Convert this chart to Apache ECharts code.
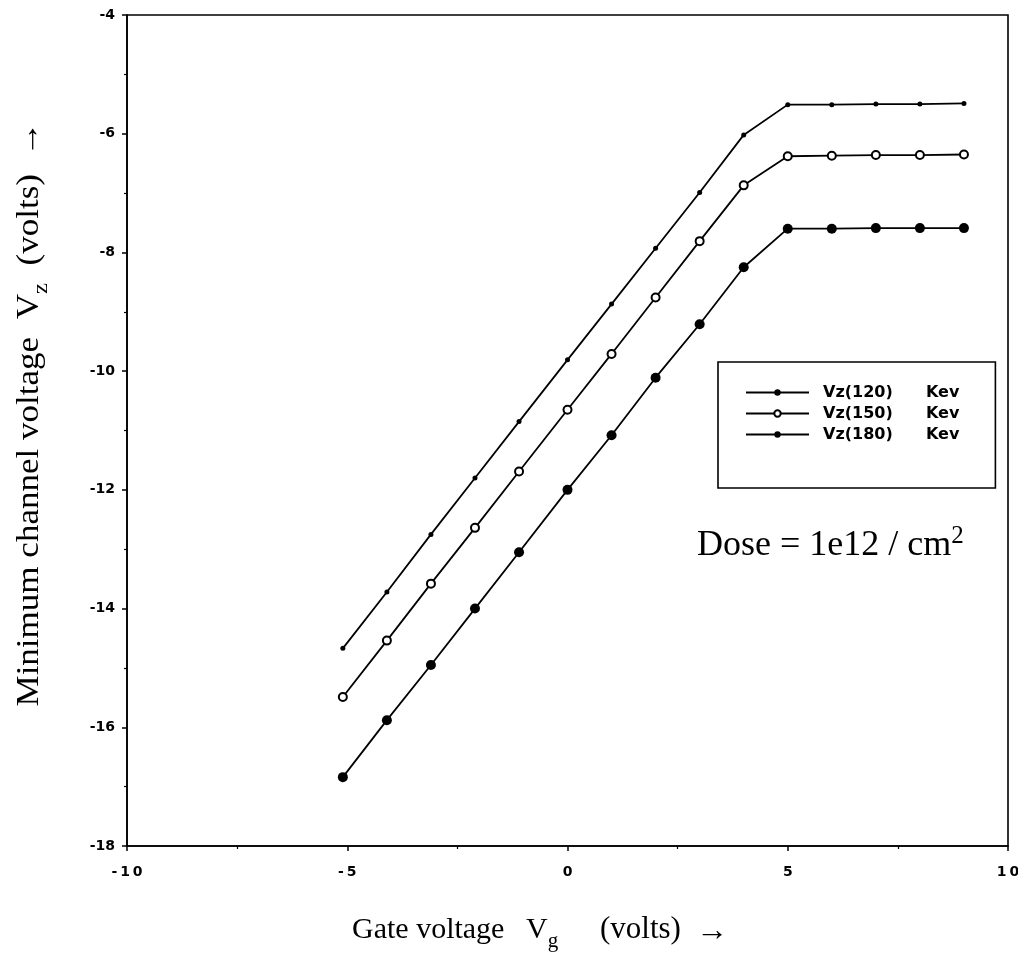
<!DOCTYPE html>
<html>
<head>
<meta charset="utf-8">
<script src="https://cdn.jsdelivr.net/npm/echarts@6/dist/echarts.min.js"></script>
<style>
  html, body { margin: 0; padding: 0; background: #fff; }
  #chart { width: 1018px; height: 963px; }
</style>
</head>
<body>
<div id="chart"></div>
<script>
// Gate voltage sweep (volts) shared by all three implant energies
const gateVoltage = [-5.1, -4.1, -3.1, -2.1, -1.1, 0, 1, 2, 3, 4, 5, 6, 7, 8, 9];
// Minimum channel voltage Vz (volts) per implant energy
const vz120 = [-14.67, -13.72, -12.75, -11.80, -10.85, -9.81, -8.87, -7.93, -6.99, -6.02, -5.51, -5.51, -5.50, -5.50, -5.49];
const vz150 = [-15.49, -14.54, -13.58, -12.64, -11.69, -10.65, -9.71, -8.76, -7.81, -6.87, -6.38, -6.37, -6.36, -6.36, -6.35];
const vz180 = [-16.84, -15.88, -14.95, -14.00, -13.05, -12.00, -11.08, -10.11, -9.21, -8.25, -7.60, -7.60, -7.59, -7.59, -7.59];
const seriesNames = ['Vz(120)', 'Vz(150)', 'Vz(180)'];
const unitLabel = 'Kev';
// Axis ranges and tick spacing
const xRange = [-10, 10], xStep = 5;
const yRange = [-18, -4], yStep = 2;

const pairs = ys => gateVoltage.map((x, i) => [x, ys[i]]);
const SANS = '"DejaVu Sans", Verdana, sans-serif';
const SERIF = '"Liberation Serif", "Times New Roman", serif';
// spaced-out digits on the horizontal axis labels
const spaced = v => String(v).split('').join('\u2009');

const chart = echarts.init(document.getElementById('chart'), null, { renderer: 'canvas' });

const lineBase = {
  type: 'line',
  color: '#000',
  lineStyle: { color: '#000', width: 1.8 },
  emphasis: { disabled: true },
  animation: false,
  z: 3
};

const serifRich = size => ({
  t: { fontFamily: SERIF, fontSize: size, lineHeight: 44, verticalAlign: 'middle', fill: '#000' },
  s: { fontFamily: SERIF, fontSize: Math.round(size * 0.7), lineHeight: 24, verticalAlign: 'bottom', fill: '#000' },
  p: { fontFamily: SERIF, fontSize: Math.round(size * 0.7), lineHeight: 24, verticalAlign: 'top', fill: '#000' }
});

const plainText = (txt, x, y, size) => ({
  type: 'text', x: x, y: y, silent: true,
  style: {
    text: txt, fill: '#000',
    font: `${size}px ${SERIF}`,
    textAlign: 'left', textVerticalAlign: 'middle', align: 'left', verticalAlign: 'middle'
  }
});

chart.setOption({
  backgroundColor: '#fff',
  animation: false,
  grid: {
    left: 127, right: 10, top: 15, bottom: 117,
    containLabel: false, outerBoundsMode: 'none',
    show: true, borderColor: '#000', borderWidth: 1.6, backgroundColor: 'transparent'
  },
  xAxis: {
    type: 'value', min: xRange[0], max: xRange[1], interval: xStep,
    axisLine: { show: true, onZero: false, lineStyle: { color: '#000', width: 1.6 } },
    axisTick: { show: true, inside: false, length: 5, lineStyle: { color: '#000', width: 1.5 } },
    minorTick: { show: true, splitNumber: 2, length: 3, lineStyle: { color: '#000', width: 1.2 } },
    splitLine: { show: false },
    axisLabel: {
      color: '#000', fontFamily: SANS, fontWeight: 'bold', fontSize: 14, margin: 19,
      formatter: v => spaced(v)
    }
  },
  yAxis: {
    type: 'value', min: yRange[0], max: yRange[1], interval: yStep,
    axisLine: { show: true, onZero: false, lineStyle: { color: '#000', width: 1.6 } },
    axisTick: { show: true, inside: false, length: 5, lineStyle: { color: '#000', width: 1.5 } },
    minorTick: { show: true, splitNumber: 2, length: 3, lineStyle: { color: '#000', width: 1.2 } },
    splitLine: { show: false },
    axisLabel: { color: '#000', fontFamily: SANS, fontWeight: 'bold', fontSize: 14, margin: 12 }
  },
  legend: {
    orient: 'vertical',
    left: 718, top: 362,
    padding: [22, 36, 45, 27],
    itemGap: 4,
    itemWidth: 63, itemHeight: 8,
    borderColor: '#000', borderWidth: 1.6,
    backgroundColor: '#fff',
    selectedMode: false,
    data: seriesNames,
    formatter: name => `{a|${name}}{b|${unitLabel}}`,
    textStyle: {
      color: '#000', fontFamily: SANS, fontWeight: 'bold', fontSize: 16, lineHeight: 17,
      rich: {
        a: { fontFamily: SANS, fontWeight: 'bold', fontSize: 16, width: 103, padding: [0, 0, 0, 9] },
        b: { fontFamily: SANS, fontWeight: 'bold', fontSize: 16 }
      }
    }
  },
  series: [
    Object.assign({}, lineBase, {
      name: seriesNames[0], data: pairs(vz120),
      symbol: 'circle', symbolSize: 5,
      itemStyle: { color: '#000' }
    }),
    Object.assign({}, lineBase, {
      name: seriesNames[1], data: pairs(vz150),
      symbol: 'emptyCircle', symbolSize: 8,
      itemStyle: { color: '#000', borderColor: '#000', borderWidth: 1.6 }
    }),
    Object.assign({}, lineBase, {
      name: seriesNames[2], data: pairs(vz180),
      symbol: 'circle', symbolSize: 10,
      itemStyle: { color: '#000' }
    })
  ],
  graphic: [
    // horizontal axis title: "Gate voltage  Vg  (volts)  →"
    plainText('Gate voltage', 352, 930, 30),
    {
      type: 'text', x: 526, y: 930, silent: true,
      style: {
        text: '{t|V}{s|g}',
        textAlign: 'left', textVerticalAlign: 'middle', align: 'left', verticalAlign: 'middle',
        fill: '#000',
        rich: serifRich(30)
      }
    },
    plainText('(volts)', 600, 930, 31),
    plainText('→', 696, 932, 32),
    // vertical axis title
    {
      type: 'text', x: 30, y: 414, rotation: Math.PI / 2, scaleX: 1.13, silent: true,
      style: {
        text: '{t|Minimum channel voltage  V}{s|z}{t|  (volts)  →}',
        textAlign: 'center', textVerticalAlign: 'middle', align: 'center', verticalAlign: 'middle',
        fill: '#000',
        rich: serifRich(31)
      }
    },
    // implant dose annotation
    {
      type: 'text', x: 697, y: 546, silent: true,
      style: {
        text: '{t|Dose = 1e12 / cm}{p|2}',
        textAlign: 'left', textVerticalAlign: 'middle', align: 'left', verticalAlign: 'middle',
        fill: '#000',
        rich: serifRich(36)
      }
    }
  ]
});
</script>
</body>
</html>
